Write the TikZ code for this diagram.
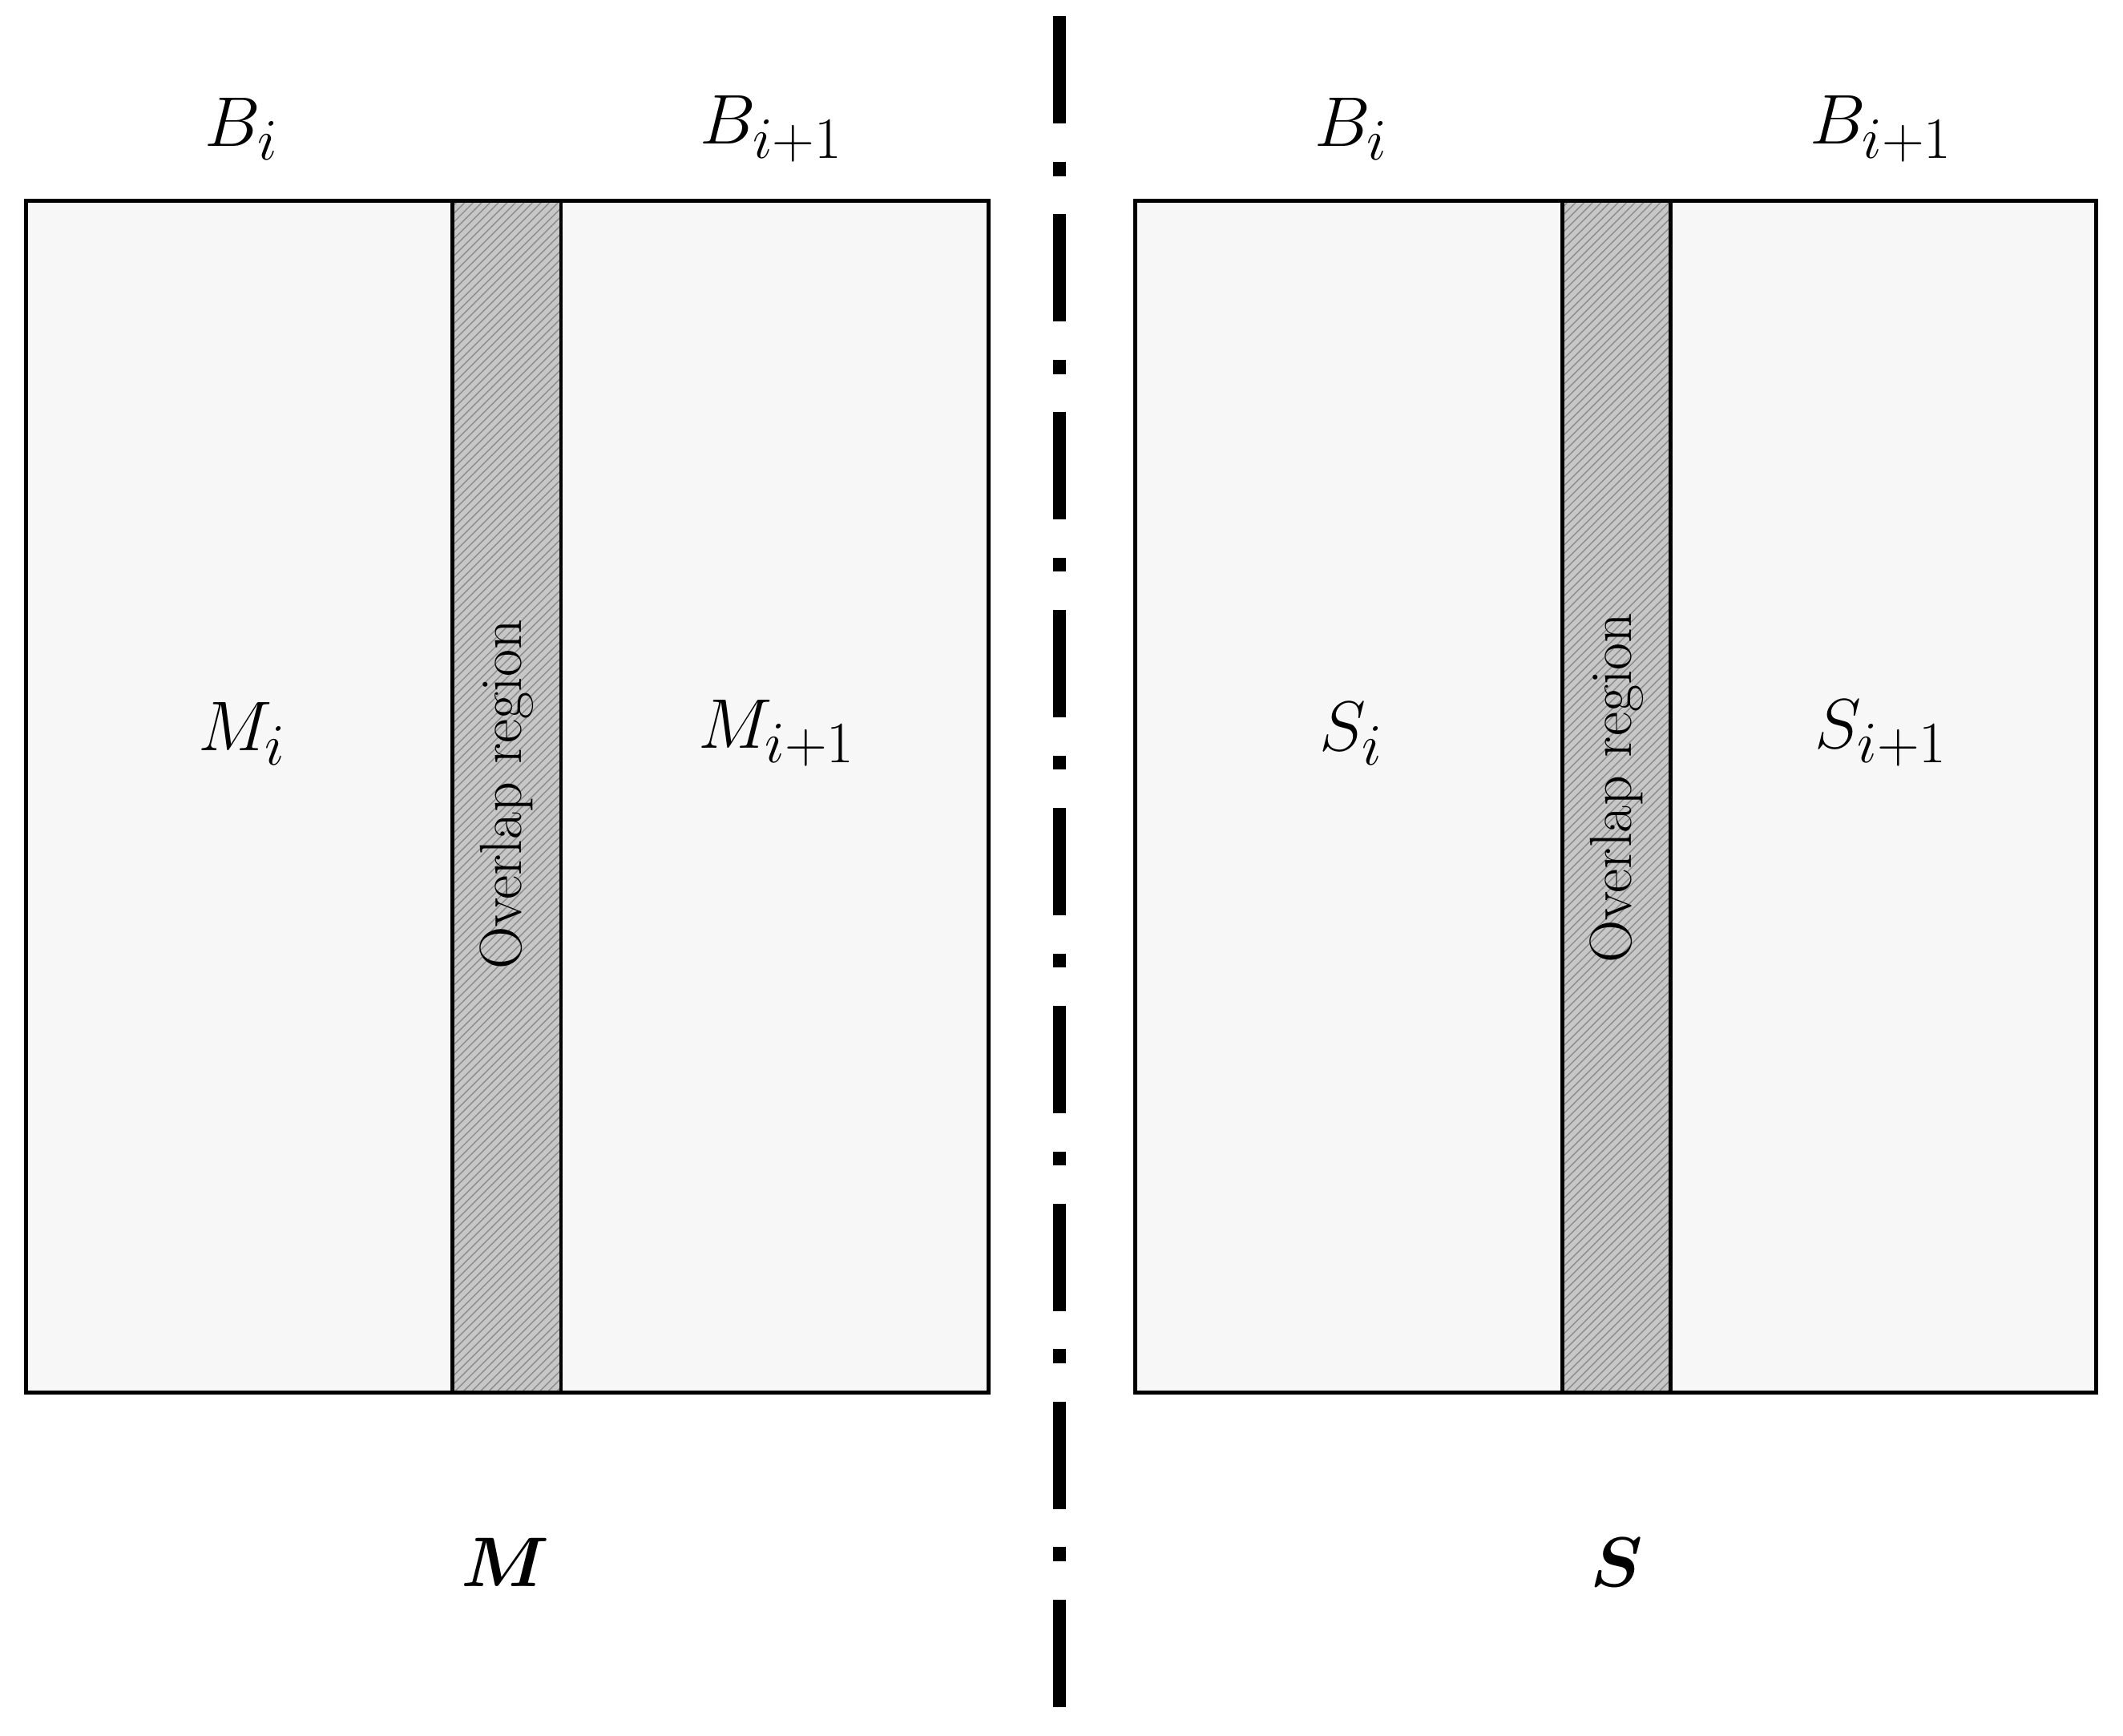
\documentclass[tikz,border=0pt]{standalone}
\usepackage{amsmath,bm}
\usetikzlibrary{patterns}
\begin{document}
\begin{tikzpicture}[x=0.4805pt,y=-0.4805pt,
  blk/.style={draw=black,line width=1.4pt,fill=black!3},
  strip/.style={fill=black!22,postaction={pattern=north east lines,pattern color=black!45}},
  edge/.style={draw=black,line width=1.4pt},
  lab/.style={font=\fontsize{31}{34}\selectfont},
  ovl/.style={rotate=90,font=\fontsize{21}{24}\selectfont}]
\useasboundingbox (0,0) rectangle (1563,1278);
% left
\path[blk] (19,148) rectangle (728,1025);
\path[strip] (333,148) rectangle (413,1025);
\path[edge] (333,148) rectangle (413,1025);
\node[ovl] (o1) at (373,585) {Overlap region};
\node[lab] (b1) at (178,95) {$B_i$};
\node[lab] (b2) at (568,95) {$B_{i+1}$};
\node[lab] (m1) at (178,540) {$M_i$};
\node[lab] (m2) at (572,540) {$M_{i+1}$};
\node[lab] (M) at (372,1150) {$\bm{M}$};
% right
\path[blk] (836,148) rectangle (1543,1025);
\path[strip] (1150,148) rectangle (1230,1025);
\path[edge] (1150,148) rectangle (1230,1025);
\node[ovl] (o2) at (1190,580) {Overlap region};
\node[lab] (b3) at (995,95) {$B_i$};
\node[lab] (b4) at (1385,95) {$B_{i+1}$};
\node[lab] (s1) at (995,540) {$S_i$};
\node[lab] (s2) at (1385,540) {$S_{i+1}$};
\node[lab] (S) at (1190,1150) {$\bm{S}$};
% divider
\coordinate (d1) at (780,12);
\coordinate (d2) at (780,1258);
\draw[line width=4.5pt,dash pattern=on 38pt off 13.5pt on 5pt off 13.5pt] (d1) -- (d2);
\end{tikzpicture}
\end{document}
